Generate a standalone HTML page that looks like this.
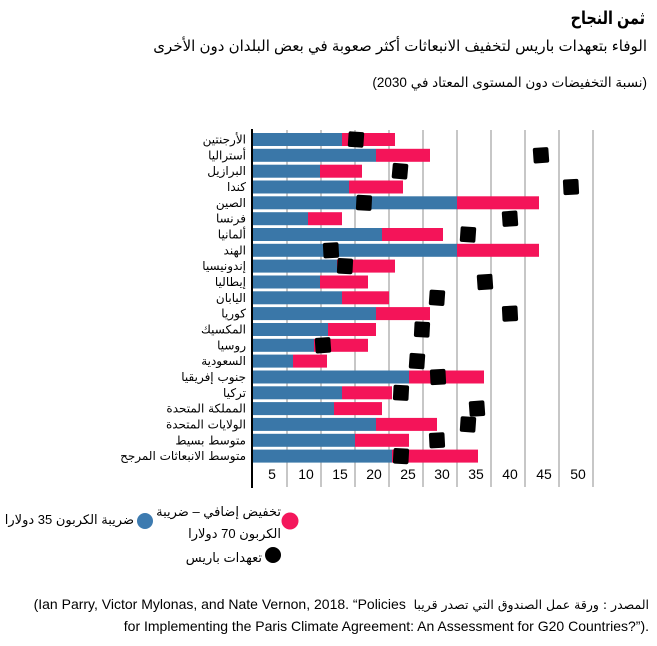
<!DOCTYPE html>
<html>
<head>
<meta charset="utf-8">
<style>
html,body{margin:0;padding:0;background:#fff;}
body{width:657px;height:646px;position:relative;overflow:hidden;font-family:"Liberation Sans","DejaVu Sans",sans-serif;color:#000;}
.ar{position:absolute;direction:rtl;white-space:nowrap;font-family:"Liberation Sans","DejaVu Sans",sans-serif;}
.lt{position:absolute;white-space:nowrap;font-family:"Liberation Sans","DejaVu Sans",sans-serif;}
svg{position:absolute;left:0;top:0;}
</style>
</head>
<body>
<svg width="657" height="646" viewBox="0 0 657 646" xmlns="http://www.w3.org/2000/svg">
  <!-- gridlines -->
  <g stroke="#a9a9a9" stroke-width="1.3">
    <line x1="287" y1="130" x2="287" y2="487"/>
    <line x1="321" y1="130" x2="321" y2="487"/>
    <line x1="355" y1="130" x2="355" y2="487"/>
    <line x1="389" y1="130" x2="389" y2="487"/>
    <line x1="423" y1="130" x2="423" y2="487"/>
    <line x1="457" y1="130" x2="457" y2="487"/>
    <line x1="491" y1="130" x2="491" y2="487"/>
    <line x1="525" y1="130" x2="525" y2="487"/>
    <line x1="559" y1="130" x2="559" y2="487"/>
    <line x1="593" y1="130" x2="593" y2="487"/>
  </g>
  <!-- blue bars -->
  <g fill="#3a77a8">
    <rect x="253" y="133.0" width="89" height="13"/>
    <rect x="253" y="148.8" width="123" height="13"/>
    <rect x="253" y="164.7" width="67" height="13"/>
    <rect x="253" y="180.5" width="96" height="13"/>
    <rect x="253" y="196.3" width="204" height="13"/>
    <rect x="253" y="212.2" width="55" height="13"/>
    <rect x="253" y="228.0" width="129" height="13"/>
    <rect x="253" y="243.8" width="204" height="13"/>
    <rect x="253" y="259.6" width="84" height="13"/>
    <rect x="253" y="275.5" width="67" height="13"/>
    <rect x="253" y="291.3" width="89" height="13"/>
    <rect x="253" y="307.1" width="123" height="13"/>
    <rect x="253" y="323.0" width="75" height="13"/>
    <rect x="253" y="338.8" width="61" height="13"/>
    <rect x="253" y="354.6" width="40" height="13"/>
    <rect x="253" y="370.5" width="156" height="13"/>
    <rect x="253" y="386.3" width="89" height="13"/>
    <rect x="253" y="402.1" width="81" height="13"/>
    <rect x="253" y="417.9" width="123" height="13"/>
    <rect x="253" y="433.8" width="102" height="13"/>
    <rect x="253" y="449.6" width="139" height="13"/>
  </g>
  <!-- pink bars -->
  <g fill="#f41459">
    <rect x="342" y="133.0" width="53" height="13"/>
    <rect x="376" y="148.8" width="54" height="13"/>
    <rect x="320" y="164.7" width="42" height="13"/>
    <rect x="349" y="180.5" width="54" height="13"/>
    <rect x="457" y="196.3" width="82" height="13"/>
    <rect x="308" y="212.2" width="34" height="13"/>
    <rect x="382" y="228.0" width="61" height="13"/>
    <rect x="457" y="243.8" width="82" height="13"/>
    <rect x="337" y="259.6" width="58" height="13"/>
    <rect x="320" y="275.5" width="48" height="13"/>
    <rect x="342" y="291.3" width="47" height="13"/>
    <rect x="376" y="307.1" width="54" height="13"/>
    <rect x="328" y="323.0" width="48" height="13"/>
    <rect x="314" y="338.8" width="54" height="13"/>
    <rect x="293" y="354.6" width="34" height="13"/>
    <rect x="409" y="370.5" width="75" height="13"/>
    <rect x="342" y="386.3" width="50" height="13"/>
    <rect x="334" y="402.1" width="48" height="13"/>
    <rect x="376" y="417.9" width="61" height="13"/>
    <rect x="355" y="433.8" width="54" height="13"/>
    <rect x="392" y="449.6" width="86" height="13"/>
  </g>
  <!-- axis -->
  <line x1="252" y1="129" x2="252" y2="488" stroke="#000" stroke-width="2"/>
  <!-- markers -->
  <g fill="#000">
    <rect x="348.2" y="131.7" width="15.6" height="15.6" rx="2" transform="rotate(4 356 139.5)"/>
    <rect x="533.2" y="147.5" width="15.6" height="15.6" rx="2" transform="rotate(-4 541 155.3)"/>
    <rect x="392.2" y="163.4" width="15.6" height="15.6" rx="2" transform="rotate(5 400 171.2)"/>
    <rect x="563.2" y="179.2" width="15.6" height="15.6" rx="2" transform="rotate(-3 571 187)"/>
    <rect x="356.2" y="195.0" width="15.6" height="15.6" rx="2" transform="rotate(3 364 202.8)"/>
    <rect x="502.2" y="210.9" width="15.6" height="15.6" rx="2" transform="rotate(-4 510 218.7)"/>
    <rect x="460.2" y="226.7" width="15.6" height="15.6" rx="2" transform="rotate(4 468 234.5)"/>
    <rect x="323.2" y="242.5" width="15.6" height="15.6" rx="2" transform="rotate(-3 331 250.3)"/>
    <rect x="337.2" y="258.3" width="15.6" height="15.6" rx="2" transform="rotate(3 345 266.1)"/>
    <rect x="477.2" y="274.2" width="15.6" height="15.6" rx="2" transform="rotate(-4 485 282)"/>
    <rect x="429.2" y="290.0" width="15.6" height="15.6" rx="2" transform="rotate(4 437 297.8)"/>
    <rect x="502.2" y="305.8" width="15.6" height="15.6" rx="2" transform="rotate(-3 510 313.6)"/>
    <rect x="414.2" y="321.7" width="15.6" height="15.6" rx="2" transform="rotate(3 422 329.5)"/>
    <rect x="315.2" y="337.5" width="15.6" height="15.6" rx="2" transform="rotate(-4 323 345.3)"/>
    <rect x="409.2" y="353.3" width="15.6" height="15.6" rx="2" transform="rotate(4 417 361.1)"/>
    <rect x="430.2" y="369.2" width="15.6" height="15.6" rx="2" transform="rotate(-3 438 377)"/>
    <rect x="393.2" y="385.0" width="15.6" height="15.6" rx="2" transform="rotate(3 401 392.8)"/>
    <rect x="469.2" y="400.8" width="15.6" height="15.6" rx="2" transform="rotate(-4 477 408.6)"/>
    <rect x="460.2" y="416.6" width="15.6" height="15.6" rx="2" transform="rotate(4 468 424.4)"/>
    <rect x="429.2" y="432.5" width="15.6" height="15.6" rx="2" transform="rotate(-3 437 440.3)"/>
    <rect x="393.2" y="448.3" width="15.6" height="15.6" rx="2" transform="rotate(3 401 456.1)"/>
  </g>
  <!-- x tick labels -->
  <g font-family="Liberation Sans, sans-serif" font-size="14" text-anchor="middle" fill="#000">
    <text x="272" y="479">5</text>
    <text x="306" y="479">10</text>
    <text x="340" y="479">15</text>
    <text x="374" y="479">20</text>
    <text x="408" y="479">25</text>
    <text x="442" y="479">30</text>
    <text x="476" y="479">35</text>
    <text x="510" y="479">40</text>
    <text x="544" y="479">45</text>
    <text x="578" y="479">50</text>
  </g>
  <!-- y labels -->
  <g font-family="DejaVu Sans, sans-serif" font-size="12" text-anchor="end" fill="#000">
    <text x="246" y="143.5">الأرجنتين</text>
    <text x="246" y="159.3">أستراليا</text>
    <text x="246" y="175.2">البرازيل</text>
    <text x="246" y="191.0">كندا</text>
    <text x="246" y="206.8">الصين</text>
    <text x="246" y="222.7">فرنسا</text>
    <text x="246" y="238.5">ألمانيا</text>
    <text x="246" y="254.3">الهند</text>
    <text x="246" y="270.1">إندونيسيا</text>
    <text x="246" y="286.0">إيطاليا</text>
    <text x="246" y="301.8">اليابان</text>
    <text x="246" y="317.6">كوريا</text>
    <text x="246" y="333.5">المكسيك</text>
    <text x="246" y="349.3">روسيا</text>
    <text x="246" y="365.1">السعودية</text>
    <text x="246" y="381.0">جنوب إفريقيا</text>
    <text x="246" y="396.8">تركيا</text>
    <text x="246" y="412.6">المملكة المتحدة</text>
    <text x="246" y="428.4">الولايات المتحدة</text>
    <text x="246" y="444.3">متوسط بسيط</text>
    <text x="246" y="460.1">متوسط الانبعاثات المرجح</text>
  </g>
  <!-- legend circles -->
  <circle cx="145" cy="521" r="8" fill="#3d7bb0"/>
  <circle cx="290" cy="521" r="8.5" fill="#f4175c"/>
  <circle cx="273" cy="555" r="8" fill="#000"/>
</svg>

<!-- titles -->
<div class="ar" style="right:12px;top:7px;font-size:18px;font-weight:bold;line-height:22px;transform:scaleX(0.8);transform-origin:right center;">ثمن النجاح</div>
<div class="ar" style="right:10px;top:37px;font-size:15px;line-height:20px;">الوفاء بتعهدات باريس لتخفيف الانبعاثات أكثر صعوبة في بعض البلدان دون الأخرى</div>
<div class="ar" style="right:10px;top:73px;font-size:13.5px;line-height:20px;">(نسبة التخفيضات دون المستوى المعتاد في 2030)</div>

<!-- legend text -->
<div class="ar" style="right:523px;top:511px;font-size:13px;line-height:18px;">ضريبة الكربون 35 دولارا</div>
<div class="ar" style="right:376px;top:503px;font-size:13px;line-height:18px;">تخفيض إضافي – ضريبة</div>
<div class="ar" style="right:376px;top:525px;font-size:13px;line-height:18px;">الكربون 70 دولارا</div>
<div class="ar" style="right:395px;top:549px;font-size:13px;line-height:18px;">تعهدات باريس</div>

<!-- source -->
<div class="lt" style="right:8px;top:594px;font-size:14px;line-height:20px;text-align:right;direction:ltr;">(Ian Parry, Victor Mylonas, and Nate Vernon, 2018. “Policies&nbsp;&nbsp;<span dir="rtl" style="font-family:'DejaVu Sans',sans-serif;font-size:12.5px;">المصدر : ورقة عمل الصندوق التي تصدر قريبا</span></div>
<div class="lt" style="right:8px;top:616px;font-size:14px;line-height:20px;text-align:right;direction:ltr;">for Implementing the Paris Climate Agreement: An Assessment for G20 Countries?”).</div>
</body>
</html>
